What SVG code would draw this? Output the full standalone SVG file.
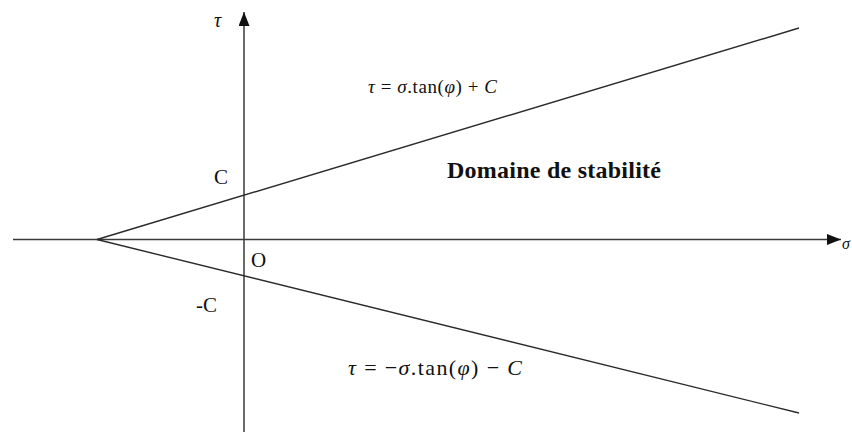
<svg xmlns="http://www.w3.org/2000/svg" width="852" height="432" viewBox="0 0 852 432">
<style>
.ax{stroke:#3a3a3a;stroke-width:1.5;fill:none}
.ln{stroke:#2a2a2a;stroke-width:1.4;fill:none}
.t{font-family:"Liberation Serif","Times New Roman",serif;fill:#111}
.i{font-style:italic}
.b{font-weight:bold}
</style>
<defs>
<marker id="arrL" viewBox="0 0 14 11" refX="14" refY="5.5" markerWidth="14" markerHeight="11" markerUnits="userSpaceOnUse" orient="auto">
<path d="M0,0 L14,5.5 L0,11 Z" fill="#111"/>
</marker>
</defs>
<rect width="852" height="432" fill="#fff"/>
<g id="connectors">
<line class="ax" x1="13" y1="239.5" x2="841" y2="239.5" marker-end="url(#arrL)"/>
<line class="ax" x1="244" y1="432" x2="244" y2="12" marker-end="url(#arrL)"/>
<line class="ln" x1="97" y1="239.5" x2="799" y2="28"/>
<line class="ln" x1="97" y1="239.5" x2="799" y2="413"/>
</g>
<g id="labels">
<text class="t i" x="214" y="27" font-size="20">τ</text>
<text class="t i" x="842" y="249" font-size="16">σ</text>
<text class="t" x="214" y="184" font-size="21">C</text>
<text class="t" x="251" y="267" font-size="21">O</text>
<text class="t" x="196" y="312" font-size="21">-C</text>
</g>
<g id="eq-upper">
<text class="t" x="368" y="93" font-size="19" textLength="129" lengthAdjust="spacing"><tspan class="i">τ</tspan> = <tspan class="i">σ</tspan>.tan(<tspan class="i">φ</tspan>) + <tspan class="i">C</tspan></text>
</g>
<g id="eq-lower">
<text class="t" x="348" y="375" font-size="22" textLength="174" lengthAdjust="spacing"><tspan class="i">τ</tspan> = −<tspan class="i">σ</tspan>.tan(<tspan class="i">φ</tspan>) − <tspan class="i">C</tspan></text>
</g>
<g id="domaine">
<text class="t b" x="447" y="178" font-size="24" textLength="214" lengthAdjust="spacing">Domaine de stabilité</text>
</g>
</svg>
